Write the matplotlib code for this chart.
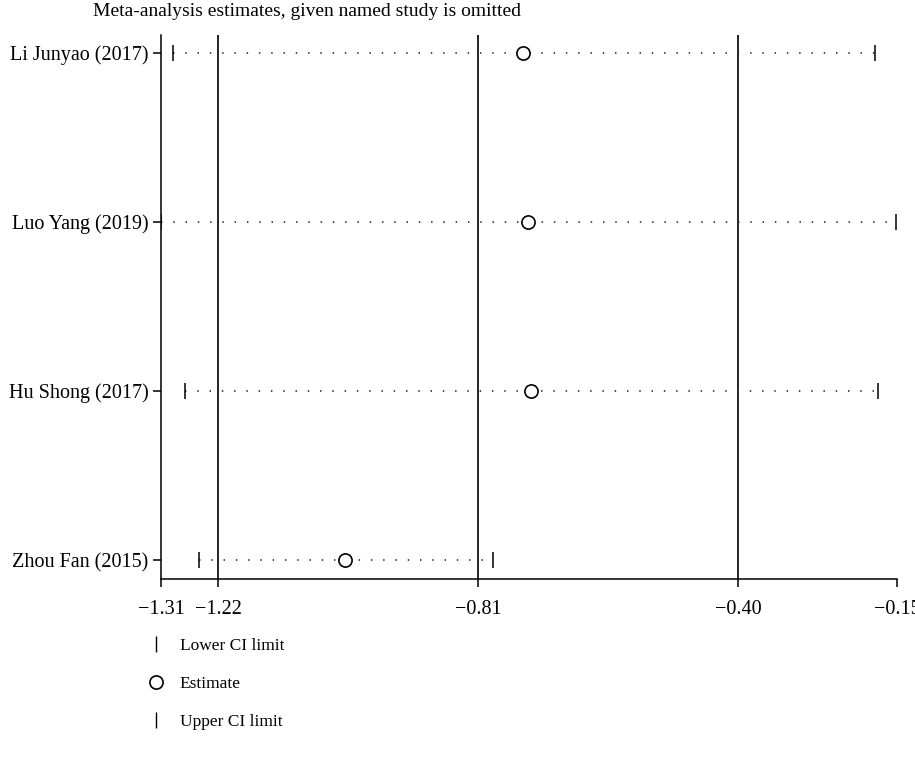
import matplotlib
matplotlib.use("Agg")
import matplotlib.pyplot as plt
from matplotlib.lines import Line2D

plt.rcParams['font.family'] = ['Liberation Serif', 'DejaVu Serif']

studies = ["Li Junyao (2017)", "Luo Yang (2019)", "Hu Shong (2017)", "Zhou Fan (2015)"]
lower = [-1.291, -1.310, -1.272, -1.250]
estimate = [-0.739, -0.732, -0.727, -1.020]
upper = [-0.185, -0.152, -0.180, -0.787]

xticks = [-1.31, -1.22, -0.81, -0.40, -0.15]
ref_lines = [-1.22, -0.81, -0.40]

fig = plt.figure(figsize=(9.15, 7.58), dpi=100)
ax = fig.add_axes([161/915, 179/758, (897-161)/915, (579-35)/758])

ypos = list(range(len(studies), 0, -1))

for x in ref_lines:
    ax.axvline(x, color='black', lw=1.2, zorder=1)

for y, lo, est, hi in zip(ypos, lower, estimate, upper):
    ax.plot([lo, hi], [y, y], color='#3a3a3a', lw=1.3,
            linestyle=(0, (0.8, 6.0)), zorder=2)
    ax.plot([lo], [y], marker='|', markersize=12, mew=1.1, color='black', ls='none', zorder=3)
    ax.plot([hi], [y], marker='|', markersize=12, mew=1.1, color='black', ls='none', zorder=3)
    ax.plot([est], [y], marker='o', markersize=9.5, mfc='white', mec='black',
            mew=1.2, ls='none', zorder=4)

ax.set_xlim(-1.31, -0.15)
ax.set_ylim(0.888, 4.107)
ax.set_xticks(xticks)
ax.set_xticklabels([f"\u2212{abs(v):.2f}" for v in xticks])
ax.set_yticks(ypos)
ax.set_yticklabels(studies)
ax.tick_params(axis='both', labelsize=14.5, length=6, width=1.1, direction='out')
ax.tick_params(axis='x', pad=9)
ax.tick_params(axis='y', pad=3)

ax.spines['top'].set_visible(False)
ax.spines['right'].set_visible(False)
ax.spines['left'].set_linewidth(1.1)
ax.spines['bottom'].set_linewidth(1.1)

fig.text(93/915, 1 - 12/758, "Meta-analysis estimates, given named study is omitted",
         fontsize=14, ha='left', va='center')

handles = [
    Line2D([], [], marker='|', color='black', ls='none', markersize=12, mew=1.0),
    Line2D([], [], marker='o', mfc='white', mec='black', ls='none', markersize=9.5, mew=1.2),
    Line2D([], [], marker='|', color='black', ls='none', markersize=12, mew=1.0),
]
fig.legend(handles, ["Lower CI limit", "Estimate", "Upper CI limit"],
           loc='upper left', bbox_to_anchor=(140/915, 1 - 631/758),
           frameon=False, fontsize=12.5, handlelength=1.0, handletextpad=0.9,
           labelspacing=1.25, borderaxespad=0)

fig.savefig("out.png", dpi=100)
